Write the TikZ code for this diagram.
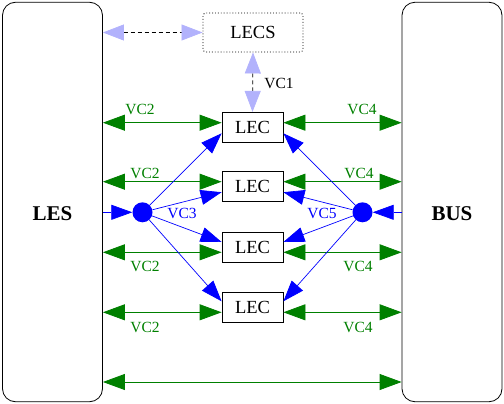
\documentclass[tikz,border=0pt]{standalone}
\usepackage{fontspec}
\setmainfont{Liberation Serif}
\usetikzlibrary{arrows.meta}
\definecolor{vcgreen}{RGB}{0,128,0}
\definecolor{vcblue}{RGB}{0,0,255}
\definecolor{lav}{RGB}{178,178,252}
\begin{document}
\begin{tikzpicture}[x=1pt,y=-1pt,
  bigbox/.style={draw, line width=0.8pt, rounded corners=13pt, minimum width=100pt, minimum height=399.5pt, inner sep=0pt},
  lecbox/.style={draw, line width=0.8pt, minimum width=61pt, minimum height=30pt, inner sep=0pt, font=\fontsize{18.5}{20}\selectfont},
  lecsbox/.style={draw, dotted, line width=0.9pt, rounded corners=3pt, minimum width=100pt, minimum height=39pt, inner sep=0pt, font=\fontsize{18.5}{20}\selectfont},
  bigtext/.style={font=\fontsize{21}{23}\selectfont\bfseries},
  gline/.style={vcgreen, line width=0.8pt, {Triangle[length=22pt,width=16pt]}-{Triangle[length=22pt,width=16pt]}},
  bline/.style={vcblue, line width=0.7pt, -{Triangle[length=21pt,width=15pt]}},
  lline/.style={black, line width=0.7pt, dash pattern=on 4pt off 3pt, {Triangle[length=21pt,width=16pt,color=lav]}-{Triangle[length=21pt,width=16pt,color=lav]}},
  dot/.style={circle, fill=vcblue, minimum size=20pt, inner sep=0pt},
  glabel/.style={text=vcgreen, font=\fontsize{15.5}{17}\selectfont, inner sep=0pt},
  blabel/.style={text=vcblue, font=\fontsize{15.5}{17}\selectfont, inner sep=0pt},
  klabel/.style={text=black, font=\fontsize{15.5}{17}\selectfont, inner sep=0pt}
]
\useasboundingbox (0,0) rectangle (504,404);

% big boxes
\node[bigbox] (lesbox) at (52.5,202) {};
\node[bigbox] (busbox) at (452,202) {};
\node[bigtext] (les) at (52.5,214) {LES};
\node[bigtext] (bus) at (452,214) {BUS};

% LECS and LECs
\node[lecsbox] (lecs) at (253,32.5) {LECS};
\node[lecbox] (lec1) at (252.5,127.3) {LEC};
\node[lecbox] (lec2) at (252.5,186.7) {LEC};
\node[lecbox] (lec3) at (252.5,247.5) {LEC};
\node[lecbox] (lec4) at (252.5,307.3) {LEC};

% dots
\node[dot] (dl) at (142.5,212.3) {};
\node[dot] (dr) at (362.5,212.3) {};

% light dashed arrows
\draw[lline] (lesbox.east |- lecs) -- (lecs.west);
\draw[lline] (lecs.south) -- (lec1.north);
\node[klabel] (vc1) at (279,83) {VC1};

% green rows
\coordinate (g1) at (0,122.7);
\coordinate (g2) at (0,181.7);
\coordinate (g3) at (0,252.3);
\coordinate (g4) at (0,312.3);
\coordinate (g5) at (0,382);
\draw[gline] (lesbox.east |- g1) -- (lec1.west |- g1);
\draw[gline] (lec1.east |- g1) -- (busbox.west |- g1);
\draw[gline] (lesbox.east |- g2) -- (lec2.west |- g2);
\draw[gline] (lec2.east |- g2) -- (busbox.west |- g2);
\draw[gline] (lesbox.east |- g3) -- (lec3.west |- g3);
\draw[gline] (lec3.east |- g3) -- (busbox.west |- g3);
\draw[gline] (lesbox.east |- g4) -- (lec4.west |- g4);
\draw[gline] (lec4.east |- g4) -- (busbox.west |- g4);
\draw[gline] (lesbox.east |- g5) -- (busbox.west |- g5);

\node[glabel] (vc2a) at (140,109) {VC2};
\node[glabel] (vc4a) at (362,109) {VC4};
\node[glabel] (vc2b) at (145,173) {VC2};
\node[glabel] (vc4b) at (359,173) {VC4};
\node[glabel] (vc2c) at (145,266) {VC2};
\node[glabel] (vc4c) at (358,266) {VC4};
\node[glabel] (vc2d) at (145,327) {VC2};
\node[glabel] (vc4d) at (358,327) {VC4};

% blue arrows
\draw[bline] (lesbox.east |- dl) -- (dl);
\draw[bline] (busbox.west |- dr) -- (dr);
\draw[bline] (dl) -- ([yshift=-6pt]lec1.west);
\draw[bline] (dl) -- ([yshift=-5.5pt]lec2.west);
\draw[bline] (dl) -- ([yshift=5.5pt]lec3.west);
\draw[bline] (dl) -- ([yshift=6pt]lec4.west);
\draw[bline] (dr) -- ([yshift=-6pt]lec1.east);
\draw[bline] (dr) -- ([yshift=-5.5pt]lec2.east);
\draw[bline] (dr) -- ([yshift=5.5pt]lec3.east);
\draw[bline] (dr) -- ([yshift=6pt]lec4.east);
\node[blabel] (vc3) at (182,213) {VC3};
\node[blabel] (vc5) at (322,213) {VC5};
\end{tikzpicture}
\end{document}
